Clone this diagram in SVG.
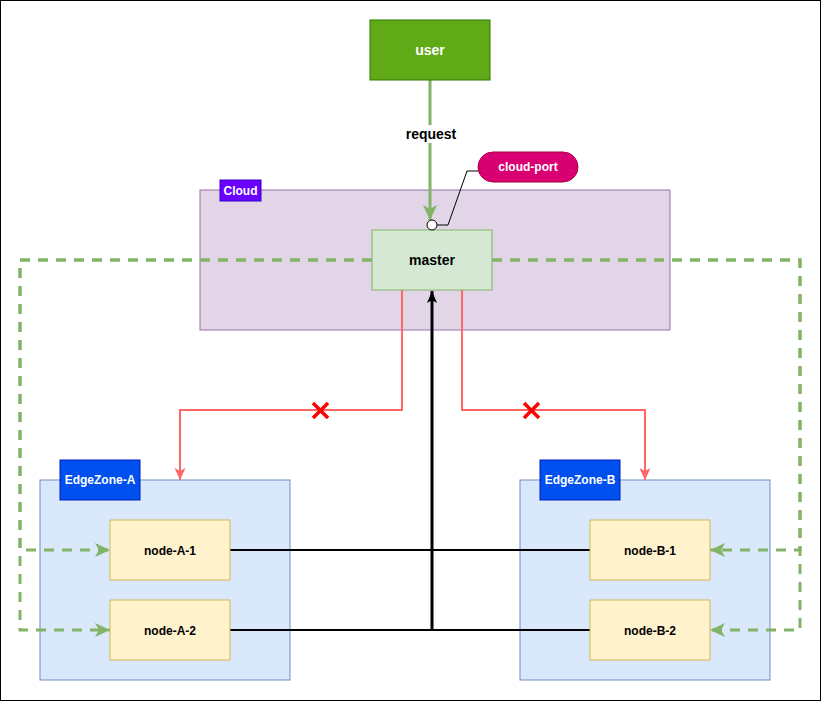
<svg xmlns="http://www.w3.org/2000/svg" width="821" height="701" viewBox="0 0 821 701">
<style>
text{font-family:"Liberation Sans",Arial,sans-serif;font-size:12px;font-weight:bold;text-anchor:middle}
.big{font-size:14px}
.w{fill:#fff}
.k{fill:#000}
.node{fill:#fff2cc;stroke:#d6b656;stroke-width:1}
.zone{fill:#dae8fc;stroke:#6c8ebf;stroke-width:1}
.zl{fill:#0050ef;stroke:#001DBC;stroke-width:1}
.gd{fill:none;stroke:#82b366;stroke-width:3;stroke-dasharray:10 8}
.red{fill:none;stroke:#FF6666;stroke-width:2}
.blk{fill:none;stroke:#000;stroke-width:2}
.x{stroke:#FF0000;stroke-width:3.5}
</style>
<defs>
<marker id="ag" markerUnits="userSpaceOnUse" markerWidth="16" markerHeight="15" refX="15" refY="7" orient="auto" viewBox="0 0 16 15"><path d="M0,0 L15,7 L0,14 L4,7 Z" fill="#82b366"/></marker>
<marker id="ar" markerUnits="userSpaceOnUse" markerWidth="13" markerHeight="12" refX="12" refY="5.5" orient="auto" viewBox="0 0 13 12"><path d="M0,0 L12,5.5 L0,11 L3,5.5 Z" fill="#FF6666"/></marker>
<marker id="ak" markerUnits="userSpaceOnUse" markerWidth="13" markerHeight="11" refX="12" refY="5" orient="auto" viewBox="0 0 13 11"><path d="M0,0 L12,5 L0,10 L3,5 Z" fill="#000"/></marker>
</defs>
<rect x="0.5" y="0.5" width="820" height="700" fill="#fff" stroke="#000"/>
<g id="cloud">
<rect x="200" y="190" width="470" height="140" fill="#e1d5e7" stroke="#9673a6"/>
<rect x="220" y="180" width="41" height="21" fill="#6a00ff" stroke="#3700CC"/>
<text x="240.5" y="195" class="w">Cloud</text>
</g>
<g id="edgezone-a">
<rect x="40" y="480" width="250" height="200" class="zone"/>
<rect x="60" y="460" width="80" height="40" class="zl"/>
<text x="100" y="484" class="w">EdgeZone-A</text>
</g>
<g id="edgezone-b">
<rect x="520" y="480" width="250" height="200" class="zone"/>
<rect x="540" y="460" width="80" height="40" class="zl"/>
<text x="580" y="484" class="w">EdgeZone-B</text>
</g>
<g id="connectors">
<path d="M372,260 H20 V550 H110" class="gd" marker-end="url(#ag)"/>
<path d="M372,260 H20 V630 H110" class="gd" marker-end="url(#ag)"/>
<path d="M492,260 H800 V550 H710" class="gd" marker-end="url(#ag)"/>
<path d="M492,260 H800 V630 H710" class="gd" marker-end="url(#ag)"/>
<path d="M430,80 V220" fill="none" stroke="#82b366" stroke-width="3" marker-end="url(#ag)"/>
<rect x="402" y="125" width="58" height="18" fill="#fff"/>
<text x="431" y="139" class="k big">request</text>
<path d="M402,290 V410 H180 V480" class="red" marker-end="url(#ar)"/>
<path d="M462,290 V410 H645 V480" class="red" marker-end="url(#ar)"/>
<path d="M313,403 L328,418 M328,403 L313,418" class="x"/>
<path d="M524,403 L539,418 M539,403 L524,418" class="x"/>
<path d="M230,550 H590" class="blk"/>
<path d="M230,630 H590" class="blk"/>
<path d="M432,630 V291" fill="none" stroke="#000" stroke-width="3" marker-end="url(#ak)"/>
<path d="M437,225 H448 L467,171 H478" fill="none" stroke="#000" stroke-width="1"/>
</g>
<g id="user">
<rect x="370" y="20" width="120" height="60" fill="#60a917" stroke="#2D7600"/>
<text x="430" y="55" class="w big">user</text>
</g>
<g id="master">
<rect x="372" y="230" width="120" height="60" fill="#d5e8d4" stroke="#82b366"/>
<text x="432" y="265" class="k big">master</text>
</g>
<g id="cloud-port">
<circle cx="432" cy="225" r="5" fill="#fff" stroke="#000"/>
<rect x="478" y="152" width="100" height="30" rx="15" fill="#d80073" stroke="#A50040"/>
<text x="528" y="171" class="w">cloud-port</text>
</g>
<g id="node-a-1"><rect x="110" y="520" width="120" height="60" class="node"/><text x="170" y="555" class="k">node-A-1</text></g>
<g id="node-a-2"><rect x="110" y="600" width="120" height="60" class="node"/><text x="170" y="635" class="k">node-A-2</text></g>
<g id="node-b-1"><rect x="590" y="520" width="120" height="60" class="node"/><text x="650" y="555" class="k">node-B-1</text></g>
<g id="node-b-2"><rect x="590" y="600" width="120" height="60" class="node"/><text x="650" y="635" class="k">node-B-2</text></g>
</svg>
